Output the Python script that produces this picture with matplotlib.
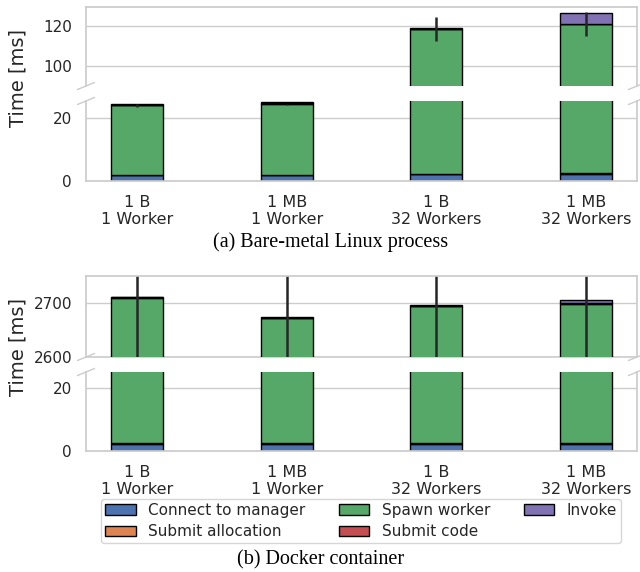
import matplotlib
matplotlib.use("Agg")
import matplotlib.pyplot as plt
import seaborn as sns
import numpy as np

# ---------------- data ----------------
labels = ["1 B\n1 Worker", "1 MB\n1 Worker", "1 B\n32 Workers", "1 MB\n32 Workers"]
series_names = ["Connect to manager", "Submit allocation", "Spawn worker",
                "Submit code", "Invoke"]

# (a) bare-metal Linux process  [ms]
bm_connect = [1.8, 1.8, 2.2, 2.3]
bm_alloc = [0.1, 0.1, 0.1, 0.1]
bm_spawn = [22.1, 22.3, 116.2, 118.4]
bm_spawn_err = [0.5, 0.3, 5.8, 6.0]
bm_code = [0.1, 0.6, 0.1, 0.1]
bm_invoke = [0.2, 0.3, 0.3, 5.4]

# (b) Docker container  [ms]
dk_connect = [2.3, 2.3, 2.3, 2.3]
dk_alloc = [0.1, 0.1, 0.1, 0.1]
dk_spawn = [2707.6, 2670.1, 2692.6, 2696.6]
dk_spawn_err = [150, 140, 130, 140]
dk_code = [0.2, 0.3, 0.2, 0.2]
dk_invoke = [0.5, 1.5, 0.8, 6.3]

# ---------------- style ----------------
sns.set_style("whitegrid")
plt.rcParams["font.family"] = ["DejaVu Sans"]
plt.rcParams["text.color"] = ".15"
plt.rcParams["axes.labelcolor"] = ".15"
plt.rcParams["xtick.color"] = ".15"
plt.rcParams["ytick.color"] = ".15"

colors = sns.color_palette("deep")
seg_colors = [colors[0], colors[1], colors[2], colors[3], colors[4]]

W, H = 640, 572
fig = plt.figure(figsize=(W / 100, H / 100), dpi=100)


def px_axes(top, bottom, left=86, right=637):
    return fig.add_axes([left / W, 1 - bottom / H, (right - left) / W, (bottom - top) / H])


def draw_stack(ax, segs, err):
    x = np.arange(len(labels))
    bottom = np.zeros(len(labels))
    handles = []
    for i, (vals, c) in enumerate(zip(segs, seg_colors)):
        vals = np.array(vals, dtype=float)
        kw = {}
        if i == 2:
            kw = dict(yerr=err, error_kw=dict(ecolor="#262626", elinewidth=1.8, capsize=0))
        h = ax.bar(x, vals, 0.35, bottom=bottom, color=c, edgecolor="black",
                   linewidth=1.0, label=series_names[i], **kw)
        handles.append(h)
        bottom = bottom + vals
    return handles


def style_pair(ax_top, ax_bot, top_lim, top_ticks, bot_lim, bot_ticks):
    for ax in (ax_top, ax_bot):
        ax.grid(axis="x", visible=False)
        ax.grid(axis="y", color=".8", linewidth=1.0)
        ax.set_axisbelow(True)
        for s in ax.spines.values():
            s.set_color(".8")
            s.set_linewidth(1.25)
        ax.tick_params(axis="both", length=0, pad=10, labelsize=11)
        ax.set_xlim(-0.3425, 3.3425)
    ax_top.set_ylim(*top_lim)
    ax_top.set_yticks(top_ticks)
    ax_bot.set_ylim(*bot_lim)
    ax_bot.set_yticks(bot_ticks)
    ax_top.spines["bottom"].set_visible(False)
    ax_bot.spines["top"].set_visible(False)
    if top_ticks[0] == top_lim[0]:
        ax_top.axhline(top_lim[0], color=".8", linewidth=1.2, clip_on=False, zorder=0.5)
    ax_top.set_xticks([])
    ax_bot.set_xticks(np.arange(len(labels)))
    ax_bot.set_xticklabels(labels, fontsize=11.5)
    # break marks (pixel-sized diagonals)
    for ax, yax in ((ax_top, 0.0), (ax_bot, 1.0)):
        bb = ax.get_position()
        wpx = bb.width * W
        hpx = bb.height * H
        dx = 8.5 / wpx
        dy = 3.5 / hpx
        for xa in (0.0, 1.0):
            ax.plot([xa - dx, xa + dx], [yax - dy, yax + dy], transform=ax.transAxes,
                    color=".8", linewidth=1.0, clip_on=False)


# ---- panel (a) ----
a_top = px_axes(7, 86)
a_bot = px_axes(101, 181)
segs_a = [bm_connect, bm_alloc, bm_spawn, bm_code, bm_invoke]
draw_stack(a_top, segs_a, bm_spawn_err)
draw_stack(a_bot, segs_a, bm_spawn_err)
style_pair(a_top, a_bot, (90, 129.5), [100, 120], (0, 25.3), [0, 20])

# ---- panel (b) ----
b_top = px_axes(276, 357)
b_bot = px_axes(372, 451)
segs_b = [dk_connect, dk_alloc, dk_spawn, dk_code, dk_invoke]
draw_stack(b_top, segs_b, dk_spawn_err)
handles = draw_stack(b_bot, segs_b, dk_spawn_err)
style_pair(b_top, b_bot, (2600, 2750), [2600, 2700], (0, 25), [0, 20])

# y labels
fig.text(18 / W, 1 - 78 / H, "Time [ms]", rotation=90, ha="center", va="center", fontsize=14)
fig.text(18 / W, 1 - 347 / H, "Time [ms]", rotation=90, ha="center", va="center", fontsize=14)

# captions
fig.text(331 / W, 1 - 242 / H, "(a) Bare-metal Linux process", ha="center", va="center",
         fontsize=14.5, family="Liberation Serif", color="black")
fig.text(321 / W, 1 - 560 / H, "(b) Docker container", ha="center", va="center",
         fontsize=14.5, family="Liberation Serif", color="black")

# legend
leg = fig.legend([h.patches[0] for h in handles], series_names, ncol=3, loc="upper center",
                 bbox_to_anchor=(361 / W, 1 - 499 / H), fontsize=11, frameon=True,
                 edgecolor=".8", borderaxespad=0, labelspacing=0.42, borderpad=0.25,
                 columnspacing=2.2)
leg.get_frame().set_linewidth(1.0)

fig.savefig("out.png", dpi=100)
